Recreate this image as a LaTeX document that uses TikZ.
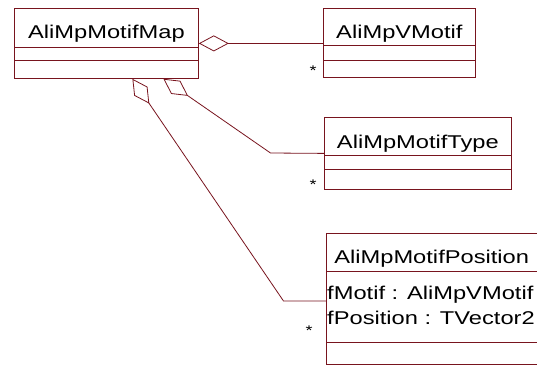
\documentclass[tikz,border=0pt]{standalone}
\usepackage{fontspec}
\setmainfont{Liberation Sans}[FakeStretch=1.28]
\usetikzlibrary{arrows.meta}

\definecolor{umlred}{RGB}{120,20,30}
\tikzset{
  classbox/.style={draw=umlred, line width=0.8pt, anchor=north west, inner sep=0pt},
  classline/.style={draw=umlred, line width=0.8pt},
  classname/.style={anchor=base, inner sep=0pt, font=\fontsize{18.5}{22}\selectfont},
  attr/.style={anchor=base west, inner sep=0pt, font=\fontsize{18.5}{22}\selectfont},
  mult/.style={anchor=base, inner sep=0pt, font=\fontsize{14}{17}\selectfont},
  aggr/.style={draw=umlred, line width=0.8pt, {Diamond[open,length=30pt,width=16pt]}-},
}

\begin{document}
\begin{tikzpicture}[x=1pt,y=-1pt]
    \useasboundingbox (0,0) rectangle (537,366);
    % classes
    \node[classbox, minimum width=184pt, minimum height=70pt] (map) at (14,8) {};
    \node[classname] at ([yshift=-30.5pt]map.north) {AliMpMotifMap};
    \draw[classline] ([yshift=-39pt]map.north west) -- ([yshift=-39pt]map.north east);
    \draw[classline] ([yshift=-52pt]map.north west) -- ([yshift=-52pt]map.north east);

    \node[classbox, minimum width=152pt, minimum height=69pt] (vmotif) at (323,8) {};
    \node[classname] at ([yshift=-31pt]vmotif.north) {AliMpVMotif};
    \draw[classline] ([yshift=-37pt]vmotif.north west) -- ([yshift=-37pt]vmotif.north east);
    \draw[classline] ([yshift=-52pt]vmotif.north west) -- ([yshift=-52pt]vmotif.north east);

    \node[classbox, minimum width=187pt, minimum height=72pt] (mtype) at (324,117) {};
    \node[classname] at ([yshift=-31.5pt]mtype.north) {AliMpMotifType};
    \draw[classline] ([yshift=-38pt]mtype.north west) -- ([yshift=-38pt]mtype.north east);
    \draw[classline] ([yshift=-52pt]mtype.north west) -- ([yshift=-52pt]mtype.north east);

    \node[classbox, minimum width=210.6pt, minimum height=131pt] (mpos) at (326,233) {};
    \node[classname] at ([yshift=-30pt]mpos.north) {AliMpMotifPosition};
    \draw[classline] ([yshift=-38pt]mpos.north west) -- ([yshift=-38pt]mpos.north east);
    \draw[classline] ([yshift=-109pt]mpos.north west) -- ([yshift=-109pt]mpos.north east);
    \node[attr] (fmotif) at (327,299) {fMotif : AliMpVMotif};
    \node[attr] (fpos) at (327,324) {fPosition : TVector2};

    % aggregations
    \draw[aggr] (map.east) -- (map.east -| vmotif.west);
    \draw[aggr] ([xshift=57pt]map.south) -- (270.5,153) -- (mtype.west);
    \draw[aggr] ([xshift=26pt]map.south) -- (283.5,301) -- (mpos.west |- 0,301);
    \node[mult] (m1) at (313,76) {*};
    \node[mult] (m2) at (313,189) {*};
    \node[mult] (m3) at (309,335) {*};
\end{tikzpicture}
\end{document}
